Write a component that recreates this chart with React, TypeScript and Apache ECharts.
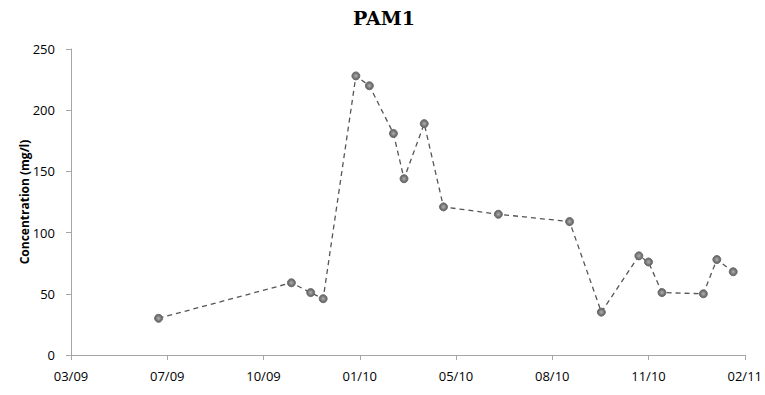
import React, { useEffect, useRef } from "react";
import * as echarts from "echarts";

const title = "PAM1";
const yAxisName = "Concentration (mg/l)";
const startDate = "2009-03-28";
const sampleDates = [
  "2009-06-27", "2009-11-12", "2009-12-02", "2009-12-15", "2010-01-18",
  "2010-02-01", "2010-02-26", "2010-03-09", "2010-03-30", "2010-04-19",
  "2010-06-15", "2010-08-28", "2010-09-30", "2010-11-08", "2010-11-18",
  "2010-12-02", "2011-01-14", "2011-01-28", "2011-02-14",
];
const concentrations = [30, 59, 51, 46, 228, 220, 181, 144, 189, 121, 115, 109, 35, 81, 76, 51, 50, 78, 68];

const DAY = 86400000;
const t0 = Date.parse(startDate + "T00:00:00Z");
const toDays = (d: string) => Math.round((Date.parse(d + "T00:00:00Z") - t0) / DAY);
const fmt = (days: number) => {
  const d = new Date(t0 + days * DAY);
  const m = String(d.getUTCMonth() + 1).padStart(2, "0");
  const y = String(d.getUTCFullYear() % 100).padStart(2, "0");
  return m + "/" + y;
};

export default function App() {
  const ref = useRef<HTMLDivElement>(null);
  useEffect(() => {
    if (!ref.current) return;
    const chart = echarts.init(ref.current, null, { renderer: "svg" });
    const data = sampleDates.map((d, i) => [toDays(d), concentrations[i]]);
    chart.setOption({
      animation: false,
      backgroundColor: "#ffffff",
      title: {
        text: title,
        left: 379,
        textAlign: "center",
        top: 3,
        textStyle: { fontFamily: "DejaVu Serif", fontWeight: "bold", fontSize: 19, color: "#000" },
      },
      grid: { left: 71, right: 20, top: 49, bottom: 40, containLabel: false },
      xAxis: {
        type: "value",
        min: 0,
        max: 700,
        interval: 100,
        axisLine: { lineStyle: { color: "#a6a6a6", width: 1 } },
        axisTick: { show: true, length: 5, lineStyle: { color: "#a6a6a6" } },
        splitLine: { show: false },
        axisLabel: {
          formatter: (v: number) => fmt(v),
          color: "#000",
          fontFamily: "Open Sans",
          fontSize: 13,
          margin: 14,
        },
      },
      yAxis: {
        type: "value",
        min: 0,
        max: 250,
        interval: 50,
        name: yAxisName,
        nameLocation: "middle",
        nameGap: 41,
        nameMoveOverlap: false,
        nameTextStyle: { fontFamily: "Open Sans", fontWeight: "bold", fontSize: 12, color: "#000" },
        axisLine: { show: true, lineStyle: { color: "#a6a6a6", width: 1 } },
        axisTick: { show: true, length: 5, lineStyle: { color: "#a6a6a6" } },
        splitLine: { show: false },
        axisLabel: { color: "#000", fontFamily: "Open Sans", fontSize: 13, margin: 16 },
      },
      series: [
        {
          type: "line",
          data,
          symbol: "circle",
          symbolSize: 8,
          itemStyle: {
            color: {
              type: "radial",
              x: 0.5,
              y: 0.5,
              r: 0.5,
              colorStops: [
                { offset: 0, color: "#b0b0b0" },
                { offset: 1, color: "#5a5a5a" },
              ],
            },
            borderColor: "#6e6e6e",
            borderWidth: 1,
          },
          lineStyle: { color: "#555", width: 1.3, type: [5, 4] },
        },
      ],
    });
    return () => chart.dispose();
  }, []);
  return <div ref={ref} style={{ width: 765, height: 395, position: "absolute", left: 0, top: 0 }} />;
}
